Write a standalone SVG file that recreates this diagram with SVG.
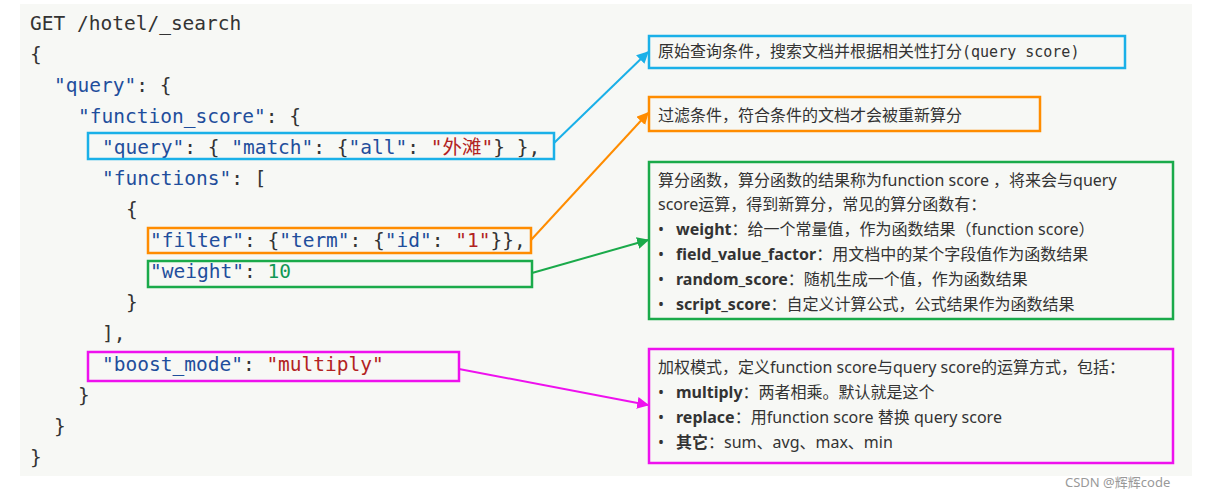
<svg xmlns="http://www.w3.org/2000/svg" width="1207" height="497" viewBox="0 0 1207 497">
<style>
.c{font-family:"DejaVu Sans Mono","Liberation Mono","Noto Sans CJK SC",monospace;font-size:19.5px;fill:#333}
.k{fill:#1f4e9c}.s{fill:#b22222}.n{fill:#119955}
.t{font-family:"Noto Sans","Noto Sans CJK SC",sans-serif;font-size:16px;fill:#333}
.m{font-family:"DejaVu Sans Mono",monospace;font-size:15px}
.b{font-weight:bold}
.box{fill:none;stroke-width:2.5}
</style>
<defs>
<marker id="ab" viewBox="0 0 10 10" refX="9" refY="5" markerWidth="6" markerHeight="6" orient="auto"><path d="M0,0L10,5L0,10z" fill="#1ab0e8"/></marker>
<marker id="ao" viewBox="0 0 10 10" refX="9" refY="5" markerWidth="6" markerHeight="6" orient="auto"><path d="M0,0L10,5L0,10z" fill="#ff8c00"/></marker>
<marker id="ag" viewBox="0 0 10 10" refX="9" refY="5" markerWidth="6" markerHeight="6" orient="auto"><path d="M0,0L10,5L0,10z" fill="#1aaa4a"/></marker>
<marker id="am" viewBox="0 0 10 10" refX="9" refY="5" markerWidth="6" markerHeight="6" orient="auto"><path d="M0,0L10,5L0,10z" fill="#ee11ee"/></marker>
</defs>
<rect width="1207" height="497" fill="#fff"/>
<rect x="20" y="4" width="1172" height="472" fill="#f7f8f5"/>
<g id="code" class="c">
<text x="30" y="30">GET /hotel/_search</text>
<text x="30" y="61">{</text>
<text x="54" y="92"><tspan class="k">"query"</tspan>: {</text>
<text x="78" y="123"><tspan class="k">"function_score"</tspan>: {</text>
<text x="102" y="154"><tspan class="k">"query"</tspan>: { <tspan class="k">"match"</tspan>: {<tspan class="k">"all"</tspan>: <tspan class="s">"外滩"</tspan>} },</text>
<text x="102" y="185"><tspan class="k">"functions"</tspan>: [</text>
<text x="126" y="216">{</text>
<text x="150" y="247"><tspan class="k">"filter"</tspan>: {<tspan class="k">"term"</tspan>: {<tspan class="k">"id"</tspan>: <tspan class="s">"1"</tspan>}},</text>
<text x="150" y="278"><tspan class="k">"weight"</tspan>: <tspan class="n">10</tspan></text>
<text x="126" y="309">}</text>
<text x="102" y="340">],</text>
<text x="102" y="371"><tspan class="k">"boost_mode"</tspan>: <tspan class="s">"multiply"</tspan></text>
<text x="78" y="402">}</text>
<text x="54" y="433">}</text>
<text x="30" y="464">}</text>
</g>
<g id="hl">
<rect class="box" x="88" y="133" width="466" height="26" stroke="#1ab0e8"/>
<rect class="box" x="148" y="228" width="383" height="25" stroke="#ff8c00"/>
<rect class="box" x="148" y="261" width="384" height="26" stroke="#1aaa4a"/>
<rect class="box" x="88" y="352" width="371" height="29" stroke="#ee11ee"/>
</g>
<g id="connectors" stroke-width="2" fill="none">
<line x1="554" y1="143" x2="648" y2="52" stroke="#1ab0e8" marker-end="url(#ab)"/>
<line x1="531" y1="240" x2="648" y2="113" stroke="#ff8c00" marker-end="url(#ao)"/>
<line x1="532" y1="273" x2="648" y2="240" stroke="#1aaa4a" marker-end="url(#ag)"/>
<line x1="459" y1="369" x2="648" y2="405" stroke="#ee11ee" marker-end="url(#am)"/>
</g>
<g id="n1"><rect class="box" x="649" y="36" width="476" height="32" stroke="#1ab0e8" fill="#fff"/>
<text class="t" x="658" y="57">原始查询条件，搜索文档并根据相关性打分<tspan class="m">(query score)</tspan></text></g>
<g id="n2"><rect class="box" x="649" y="97" width="391" height="34" stroke="#ff8c00" fill="#fff"/>
<text class="t" x="658" y="121">过滤条件，符合条件的文档才会被重新算分</text></g>
<g id="n3"><rect class="box" x="649" y="162" width="524" height="157" stroke="#1aaa4a" fill="#fff"/>
<text class="t" x="658" y="186">算分函数，算分函数的结果称为function score ，将来会与query</text>
<text class="t" x="658" y="210">score运算，得到新算分，常见的算分函数有：</text>
<text class="t" x="658" y="235">•</text><text class="t" x="676" y="235"><tspan class="b">weight</tspan>：给一个常量值，作为函数结果（function score）</text>
<text class="t" x="658" y="260">•</text><text class="t" x="676" y="260"><tspan class="b">field_value_factor</tspan>：用文档中的某个字段值作为函数结果</text>
<text class="t" x="658" y="285">•</text><text class="t" x="676" y="285"><tspan class="b">random_score</tspan>：随机生成一个值，作为函数结果</text>
<text class="t" x="658" y="310">•</text><text class="t" x="676" y="310"><tspan class="b">script_score</tspan>：自定义计算公式，公式结果作为函数结果</text></g>
<g id="n4"><rect class="box" x="649" y="349" width="524" height="114" stroke="#ee11ee" fill="#fff"/>
<text class="t" x="658" y="373">加权模式，定义function score与query score的运算方式，包括：</text>
<text class="t" x="658" y="398">•</text><text class="t" x="676" y="398"><tspan class="b">multiply</tspan>：两者相乘。默认就是这个</text>
<text class="t" x="658" y="423">•</text><text class="t" x="676" y="423"><tspan class="b">replace</tspan>：用function score 替换 query score</text>
<text class="t" x="658" y="448">•</text><text class="t" x="676" y="448"><tspan class="b">其它</tspan>：sum、avg、max、min</text></g>
<text x="1065" y="487" font-family="Noto Sans,Noto Sans CJK SC,sans-serif" font-size="13" fill="#999">CSDN @辉辉code</text>
</svg>
